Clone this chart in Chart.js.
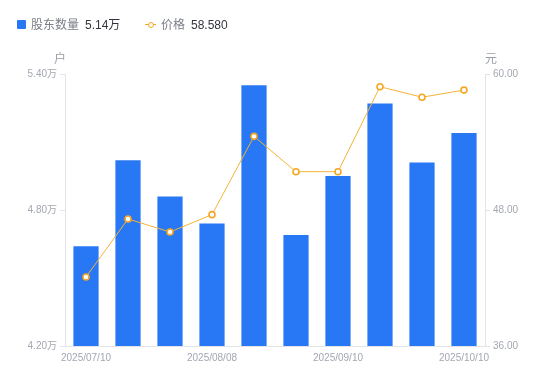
<!DOCTYPE html>
<html><head><meta charset="utf-8">
<script src="https://cdn.jsdelivr.net/npm/chart.js@4/dist/chart.umd.min.js"></script>
<style>
html,body{margin:0;padding:0;background:#fff;}
#wrap{position:relative;width:550px;height:381px;font-family:"Liberation Sans",Arial,"Noto Sans CJK SC",sans-serif;}
canvas{position:absolute;left:0;top:0;}
.lg{position:absolute;top:15px;font-size:12px;white-space:nowrap;}
.lab{color:#7a7e87;}
.val{color:#33363d;margin-left:6px;}
.unit{position:absolute;top:49px;font-size:12px;color:#9a9ea7;}
</style></head>
<body><div id="wrap">
<canvas id="c" width="550" height="381"></canvas>
<div class="lg" style="left:17px;"><span style="display:inline-block;width:9px;height:9px;background:#2878f5;border-radius:1px;margin-right:5px;vertical-align:-0px;"></span><span class="lab">股东数量</span><span class="val">5.14万</span></div>
<div class="lg" style="left:145px;"><span style="display:inline-block;position:relative;width:11px;height:9px;margin-right:5px;vertical-align:0px;"><span style="position:absolute;left:0;top:4px;width:11px;height:1px;background:#f5a623;"></span><span style="position:absolute;left:2.5px;top:1.5px;width:4px;height:4px;border:1.5px solid #f5a623;border-radius:50%;background:#fff;"></span></span><span class="lab">价格</span><span class="val">58.580</span></div>
<div class="unit" style="left:54px;">户</div>
<div class="unit" style="left:485px;">元</div>
</div>
<script>
const categories = ["2025/07/10","2025/07/18","2025/07/31","2025/08/08","2025/08/20","2025/08/29","2025/09/10","2025/09/19","2025/09/30","2025/10/10"];
const holders = [4.64, 5.02, 4.86, 4.74, 5.35, 4.69, 4.95, 5.27, 5.01, 5.14];
const prices = [42.09, 47.21, 46.06, 47.59, 54.50, 51.38, 51.38, 58.88, 57.95, 58.58];
const leftTicks = [4.2, 4.8, 5.4];
const rightTicks = [36, 48, 60];

const tickColor = '#a3a7b0';
const axisColor = '#e3e4e8';
const font = {family: '"Liberation Sans", Arial, "Noto Sans CJK SC", sans-serif', size: 10};

new Chart(document.getElementById('c'), {
  data: {
    labels: categories,
    datasets: [
      {type:'line', label:'价格', data: prices, yAxisID:'y1', order:0,
       borderColor:'#f5b335', borderWidth:1, tension:0,
       pointRadius:3, pointBorderWidth:1.6, pointBackgroundColor:'#fff', pointBorderColor:'#f5a623'},
      {type:'bar', label:'股东数量', data: holders, yAxisID:'y', order:1,
       backgroundColor:'#2878f5', categoryPercentage:1, barPercentage:0.6}
    ]
  },
  options: {
    responsive:false, animation:false,
    layout:{padding:{top:74,left:0,right:0,bottom:0}},
    plugins:{legend:{display:false}, tooltip:{enabled:false}},
    scales:{
      x:{offset:true,
         grid:{display:true,drawOnChartArea:false,drawTicks:false,color:axisColor},
         border:{color:axisColor},
         ticks:{autoSkip:false,maxRotation:0,color:tickColor,font,padding:6,
                callback:(v,i)=> i%3===0 ? categories[i] : ''},
         afterFit:s=>{s.height=35;}},
      y:{position:'left',min:4.2,max:5.4,
         afterBuildTicks:s=>{s.ticks=leftTicks.map(v=>({value:v}));},
         grid:{drawOnChartArea:false,tickLength:5,color:axisColor},
         border:{color:axisColor},
         ticks:{color:tickColor,font,padding:3,callback:v=>v.toFixed(2)+'万'},
         afterFit:s=>{s.width=65;}},
      y1:{position:'right',min:36,max:60,
         afterBuildTicks:s=>{s.ticks=rightTicks.map(v=>({value:v}));},
         grid:{drawOnChartArea:false,tickLength:5,color:axisColor},
         border:{color:axisColor},
         ticks:{color:tickColor,font,padding:3,callback:v=>v.toFixed(2)},
         afterFit:s=>{s.width=65;}}
    }
  }
});
</script>
</body></html>
